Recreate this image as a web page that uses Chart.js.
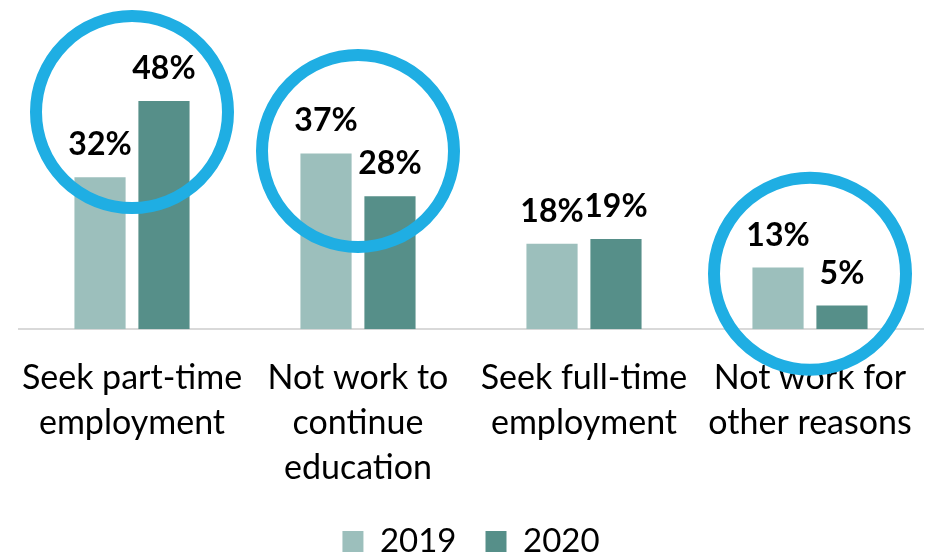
<!DOCTYPE html>
<html>
<head>
<meta charset="utf-8">
<script src="https://cdn.jsdelivr.net/npm/chart.js@4.4.0/dist/chart.umd.min.js"></script>
<style>
  html, body { margin: 0; padding: 0; background: #fff; }
  #wrap { width: 936px; height: 552px; }
</style>
</head>
<body>
<div id="wrap"><canvas id="myChart"></canvas></div>
<script>
const categories = [
  ['Seek part-time', 'employment'],
  ['Not work to', 'continue', 'education'],
  ['Seek full-time', 'employment'],
  ['Not work for', 'other reasons']
];
const years = ['2019', '2020'];
const values2019 = [32, 37, 18, 13];
const values2020 = [48, 28, 19, 5];
// which groups get a ring, and at what value the ring centre sits
const circledGroups = [0, 1, 3];
const circleCentres = [45.7, 37.5, 11.7];

const fontFamily = 'Lato, "Open Sans", sans-serif';

const barLabels = {
  id: 'barLabels',
  afterDatasetsDraw(chart) {
    const c = chart.ctx;
    c.save();
    c.fillStyle = '#000';
    c.font = 'bold 32px ' + fontFamily;
    c.textAlign = 'center';
    c.textBaseline = 'alphabetic';
    chart.data.datasets.forEach((ds, i) => {
      chart.getDatasetMeta(i).data.forEach((bar, j) => {
        c.fillText(ds.data[j] + '%', bar.x, bar.y - 22);
      });
    });
    c.restore();
  }
};

const rings = {
  id: 'rings',
  afterDraw(chart) {
    const c = chart.ctx;
    const xs = chart.scales.x, ys = chart.scales.y;
    c.save();
    c.strokeStyle = '#1FAEE3';
    c.lineWidth = 12;
    circledGroups.forEach((g, k) => {
      c.beginPath();
      c.arc(xs.getPixelForValue(g), ys.getPixelForValue(circleCentres[k]), 96, 0, Math.PI * 2);
      c.stroke();
    });
    c.restore();
  }
};

const ctx = document.getElementById('myChart');

var chart = new Chart(ctx, {
  type: 'bar',
  data: {
    labels: categories,
    datasets: [
      {
        label: years[0],
        data: values2019,
        backgroundColor: '#9CBFBC',
        categoryPercentage: 0.566,
        barPercentage: 0.8
      },
      {
        label: years[1],
        data: values2020,
        backgroundColor: '#568F89',
        categoryPercentage: 0.566,
        barPercentage: 0.8
      }
    ]
  },
  options: {
    responsive: true,
    maintainAspectRatio: false,
    animation: false,
    layout: { padding: { top: 6, left: 19, right: 13, bottom: -16 } },
    scales: {
      y: {
        display: false,
        beginAtZero: true,
        min: 0,
        max: 68
      },
      x: {
        grid: { display: false },
        border: { display: true, color: '#D9D9D9', width: 2 },
        afterFit(scale) {
          // let the legend tuck in closer under the labels
          scale.height -= 12;
        },
        ticks: {
          color: '#000',
          padding: 18,
          maxRotation: 0,
          autoSkip: false,
          font: { family: fontFamily, size: 34, lineHeight: 1.32 }
        }
      }
    },
    plugins: {
      legend: {
        position: 'bottom',
        labels: {
          color: '#000',
          boxWidth: 21,
          boxHeight: 21,
          padding: 29,
          font: { family: fontFamily, size: 33 }
        }
      },
      tooltip: { enabled: false }
    }
  },
  plugins: [barLabels, rings]
});
</script>
</body>
</html>
